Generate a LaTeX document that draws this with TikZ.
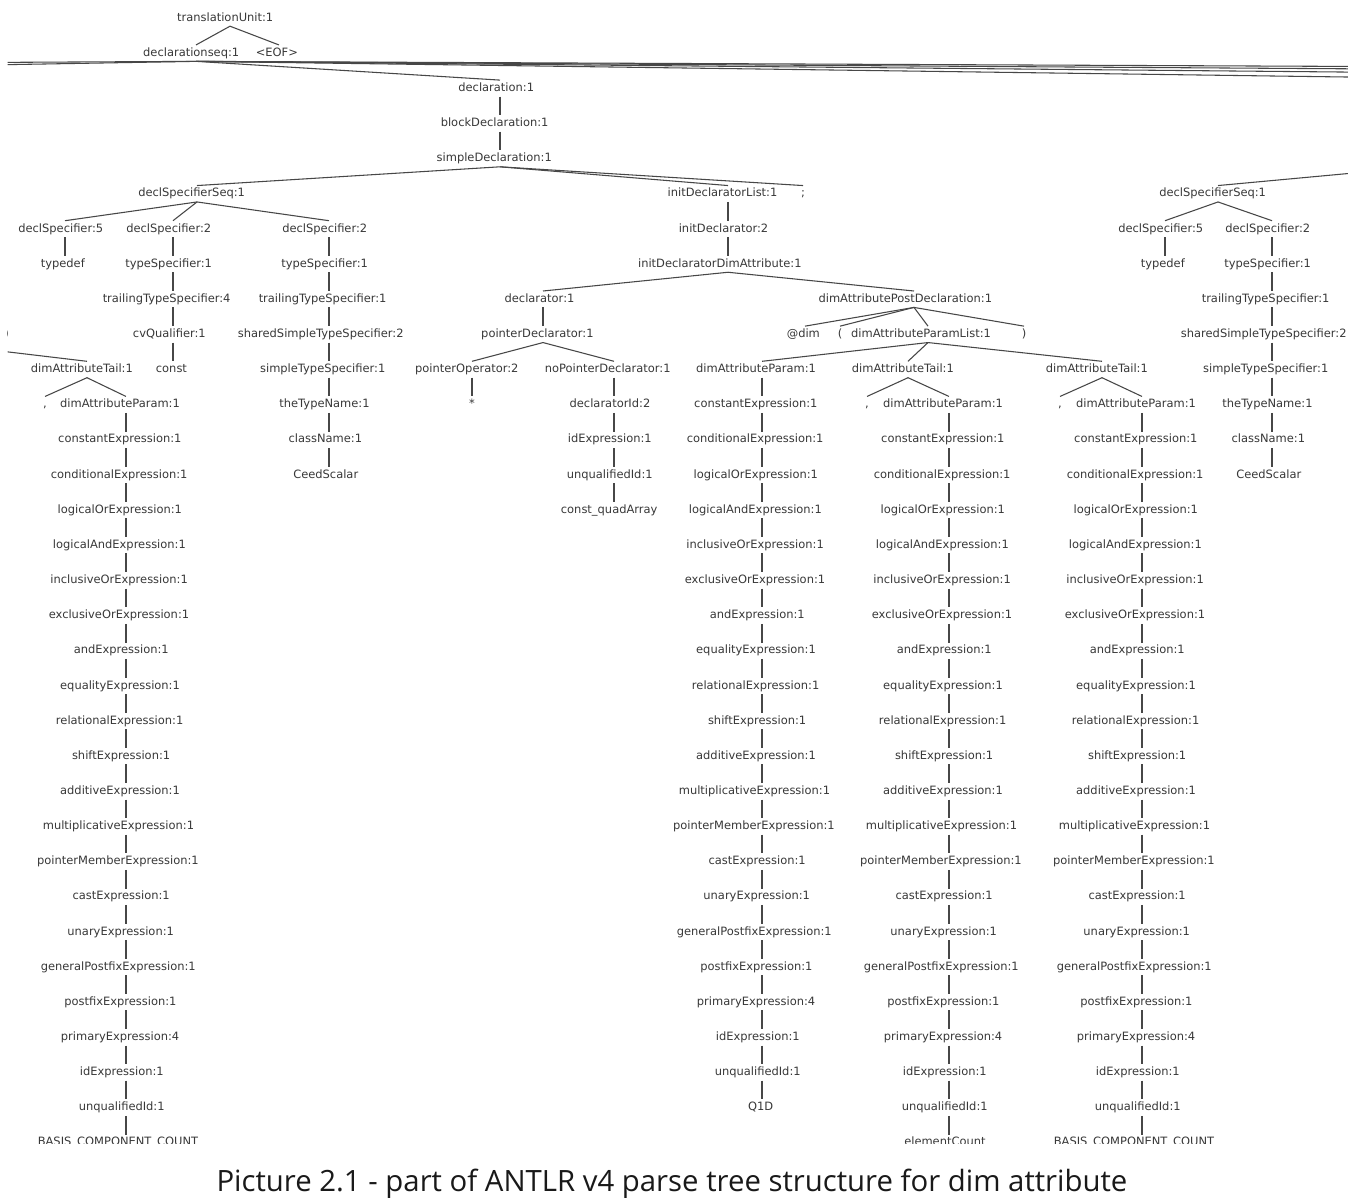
\documentclass[tikz,border=0pt]{standalone}
\usepackage{fontspec}
\newfontfamily\treefont{DejaVu Sans}
\newfontfamily\capfont{Open Sans}
\newcommand\tx[1]{\makebox[1.1\width][l]{#1}}
\newcommand\RY[1]{18+35.15*#1}
\tikzset{
  tn/.style={font=\treefont\fontsize{8.6}{10}\selectfont, text=black!78,
    inner xsep=1pt, inner ysep=1.8pt, text height=6.5pt, text depth=1.8pt},
  br/.style={draw=black!72, line width=0.8pt},
}
\newcommand\exprchain[4]{%
  \foreach \t [count=\i from 0] in {dimAttributeParam:1,constantExpression:1,conditionalExpression:1,logicalOrExpression:1,logicalAndExpression:1,inclusiveOrExpression:1,exclusiveOrExpression:1,andExpression:1,equalityExpression:1,relationalExpression:1,shiftExpression:1,additiveExpression:1,multiplicativeExpression:1,pointerMemberExpression:1,castExpression:1,unaryExpression:1,generalPostfixExpression:1,postfixExpression:1,primaryExpression:4,idExpression:1,unqualifiedId:1,#4}{
    \node[tn] (#1\i) at (#2,{18+35.15*(#3+\i)}) {\tx{\t}};
  }
  \foreach \i [evaluate=\i as \j using int(\i-1)] in {1,...,21}{
    \draw[br] (#1\j.south) -- (#1\i.north);
  }
}
\begin{document}
\begin{tikzpicture}[x=0.75pt,y=-0.75pt]
\useasboundingbox[fill=white] (0,0) rectangle (1348,1197);
\begin{scope}
\clip (7.5,0) rectangle (1348,1143.5);
% row 0-4
\node[tn] (tu) at (230,\RY{0}) {\tx{translationUnit:1}};
\node[tn] (ds) at (196,\RY{1}) {\tx{declarationseq:1}};
\node[tn] (eof) at (279,\RY{1}) {\tx{<EOF>}};
\node[tn] (decl) at (500,\RY{2}) {\tx{declaration:1}};
\node[tn] (bd) at (500,\RY{3}) {\tx{blockDeclaration:1}};
\node[tn] (sd) at (500,\RY{4}) {\tx{simpleDeclaration:1}};
% row 5
\node[tn] (dss) at (197,\RY{5}) {\tx{declSpecifierSeq:1}};
\node[tn] (idl) at (728,\RY{5}) {\tx{initDeclaratorList:1}};
\node[tn] (semi) at (803,\RY{5}) {;};
\node[tn] (rdss) at (1218,\RY{5}) {\tx{declSpecifierSeq:1}};
% row 6
\node[tn] (ds5) at (65,\RY{6}) {\tx{declSpecifier:5}};
\node[tn] (dsa) at (173,\RY{6}) {\tx{declSpecifier:2}};
\node[tn] (dsb) at (329,\RY{6}) {\tx{declSpecifier:2}};
\node[tn] (idr) at (728,\RY{6}) {\tx{initDeclarator:2}};
\node[tn] (rds5) at (1165,\RY{6}) {\tx{declSpecifier:5}};
\node[tn] (rds2) at (1272,\RY{6}) {\tx{declSpecifier:2}};
% row 7
\node[tn] (tdef) at (65,\RY{7}) {\tx{typedef}};
\node[tn] (tsa) at (173,\RY{7}) {\tx{typeSpecifier:1}};
\node[tn] (tsb) at (329,\RY{7}) {\tx{typeSpecifier:1}};
\node[tn] (idda) at (728,\RY{7}) {\tx{initDeclaratorDimAttribute:1}};
\node[tn] (rtdef) at (1165,\RY{7}) {\tx{typedef}};
\node[tn] (rts) at (1272,\RY{7}) {\tx{typeSpecifier:1}};
% row 8
\node[tn] (ttsa) at (173,\RY{8}) {\tx{trailingTypeSpecifier:4}};
\node[tn] (ttsb) at (329,\RY{8}) {\tx{trailingTypeSpecifier:1}};
\node[tn] (dcl) at (543,\RY{8}) {\tx{declarator:1}};
\node[tn] (dapd) at (914,\RY{8}) {\tx{dimAttributePostDeclaration:1}};
\node[tn] (rtts) at (1272,\RY{8}) {\tx{trailingTypeSpecifier:1}};
% row 9
\node[tn] (lrp) at (6.5,\RY{9}) {)};
\node[tn] (cvq) at (173,\RY{9}) {\tx{cvQualifier:1}};
\node[tn] (sstsb) at (329,\RY{9}) {\tx{sharedSimpleTypeSpecifier:2}};
\node[tn] (pdcl) at (543,\RY{9}) {\tx{pointerDeclarator:1}};
\node[tn] (atdim) at (805,\RY{9}) {\tx{@dim}};
\node[tn] (lp) at (840,\RY{9}) {(};
\node[tn] (dapl) at (928,\RY{9}) {\tx{dimAttributeParamList:1}};
\node[tn] (rp) at (1024,\RY{9}) {)};
\node[tn] (rssts) at (1272,\RY{9}) {\tx{sharedSimpleTypeSpecifier:2}};
% row 10
\node[tn] (ltail) at (87,\RY{10}) {\tx{dimAttributeTail:1}};
\node[tn] (cnst) at (173,\RY{10}) {\tx{const}};
\node[tn] (stsb) at (329,\RY{10}) {\tx{simpleTypeSpecifier:1}};
\node[tn] (pop) at (472,\RY{10}) {\tx{pointerOperator:2}};
\node[tn] (npd) at (614,\RY{10}) {\tx{noPointerDeclarator:1}};
\node[tn] (mtail) at (908,\RY{10}) {\tx{dimAttributeTail:1}};
\node[tn] (rtail) at (1102,\RY{10}) {\tx{dimAttributeTail:1}};
\node[tn] (rsts) at (1272,\RY{10}) {\tx{simpleTypeSpecifier:1}};
% row 11
\node[tn] (lcom) at (45,\RY{11}) {,};
\node[tn] (ttnb) at (329,\RY{11}) {\tx{theTypeName:1}};
\node[tn] (star) at (472,\RY{11}) {*};
\node[tn] (did) at (614,\RY{11}) {\tx{declaratorId:2}};
\node[tn] (mcom) at (867,\RY{11}) {,};
\node[tn] (rcom) at (1060,\RY{11}) {,};
\node[tn] (rttn) at (1272,\RY{11}) {\tx{theTypeName:1}};
% row 12-14
\node[tn] (cnb) at (329,\RY{12}) {\tx{className:1}};
\node[tn] (idx) at (614,\RY{12}) {\tx{idExpression:1}};
\node[tn] (rcn) at (1272,\RY{12}) {\tx{className:1}};
\node[tn] (ceedb) at (329,\RY{13}) {\tx{CeedScalar}};
\node[tn] (uqid) at (614,\RY{13}) {\tx{unqualifiedId:1}};
\node[tn] (rceed) at (1272,\RY{13}) {\tx{CeedScalar}};
\node[tn] (cqa) at (614,\RY{14}) {\tx{const\_quadArray}};
% expression chains
\exprchain{L}{126}{11}{BASIS\_COMPONENT\_COUNT}
\exprchain{M}{762}{10}{Q1D}
\exprchain{E}{949}{11}{elementCount}
\exprchain{R}{1142}{11}{BASIS\_COMPONENT\_COUNT}
% off-picture ends
\coordinate (ol1) at (-3395,80.3);
\coordinate (ol2) at (-892,80.3);
\coordinate (or1) at (4510,80.3);
\coordinate (or2) at (3130,80.3);
\coordinate (or3) at (2233,80.3);
\coordinate (or4) at (1589,80.3);
\coordinate (lpar) at (-72,342.4);
\coordinate (rpar) at (1423,166.6);
\foreach \c in {ol1,ol2,or1,or2,or3,or4} {\draw[br] (ds.south) -- (\c);}
\draw[br] (lpar) -- (ltail.north);
\draw[br] (rpar) -- (rdss.north);
% connectors
\foreach \a/\b in {tu/ds,tu/eof,ds/decl,decl/bd,bd/sd,sd/dss,sd/idl,sd/semi,
  dss/ds5,dss/dsa,dss/dsb,ds5/tdef,dsa/tsa,tsa/ttsa,ttsa/cvq,cvq/cnst,
  dsb/tsb,tsb/ttsb,ttsb/sstsb,sstsb/stsb,stsb/ttnb,ttnb/cnb,cnb/ceedb,
  idl/idr,idr/idda,idda/dcl,idda/dapd,dcl/pdcl,pdcl/pop,pdcl/npd,pop/star,
  npd/did,did/idx,idx/uqid,uqid/cqa,
  dapd/atdim,dapd/lp,dapd/dapl,dapd/rp,dapl/M0,dapl/mtail,dapl/rtail,
  mtail/mcom,mtail/E0,rtail/rcom,rtail/R0,ltail/lcom,ltail/L0,
  rdss/rds5,rdss/rds2,rds5/rtdef,rds2/rts,rts/rtts,rtts/rssts,rssts/rsts,
  rsts/rttn,rttn/rcn,rcn/rceed}
  {\draw[br] (\a.south) -- (\b.north);}
\end{scope}
\node[font=\capfont\fontsize{22}{26}\selectfont, text=black!90, anchor=base] (cap) at (672,1191.5)
  {Picture 2.1 - part of ANTLR v4 parse tree structure for dim attribute};
\end{tikzpicture}
\end{document}
